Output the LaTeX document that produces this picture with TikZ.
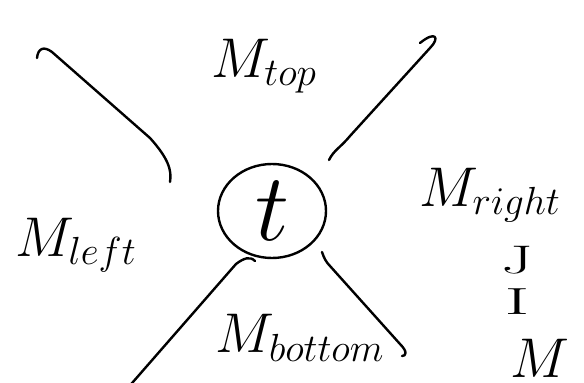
\RequirePackage{fix-cm}
\documentclass[tikz,border=0pt]{standalone}
\usepackage{amsmath}
\usepackage{amssymb}
\usetikzlibrary{shapes.geometric}

\begin{document}
\begin{tikzpicture}[x=1pt,y=-1pt,
    pen/.style={line width=2.4pt, line cap=round, line join=round},
    mlabel/.style={inner sep=0pt, font=\fontsize{56}{56}\selectfont},
    letter/.style={inner sep=0pt, font=\fontsize{42}{42}\selectfont}]
            \useasboundingbox (0,0) rectangle (584,383);
            % the task in the middle
            \node[ellipse, draw, pen, minimum width=108pt, minimum height=94pt] (t) at (272,211) {};
            \node[inner sep=0pt, font=\fontsize{96}{96}\selectfont] (tl) at (t.center) {$t$};
            % the four regions
            \node[mlabel] (mtop) at (264,66) {$M_{top}$};
            \node[mlabel] (mleft) at (76,245) {$M_{left}$};
            \node[mlabel] (mright) at (490,195) {$M_{right}$};
            \node[mlabel] (mbottom) at (300,338) {$M_{bottom}$};
            \node[letter] (j) at (517,260) {\scalebox{1.6}[0.95]{$\mathrm{J}$}};
            \node[letter] (i) at (517,302) {\scalebox{1.8}[0.9]{$\mathrm{I}$}};
            \node[mlabel, anchor=south east] (mcut) at (570,378) {$M$};
            % dividing strokes
            \coordinate (ula) at (37,58);
            \coordinate (ulb) at (170,182);
            \coordinate (ura) at (329,160);
            \coordinate (urb) at (420,43);
            \coordinate (lla) at (255,261);
            \coordinate (llb) at (126,390);
            \coordinate (lra) at (322,252);
            \coordinate (lrb) at (402,356);
            \draw[pen] (ula) .. controls (38,48) and (44,46) .. (52,52)
                -- (150,138) .. controls (168,158) and (172,170) .. (ulb);
            \draw[pen] (ura) .. controls (334,150) and (340,148) .. (350,136)
                -- (430,48) .. controls (440,38) and (436,30) .. (urb);
            \draw[pen] (lla) .. controls (250,256) and (244,258) .. (236,264)
                -- (llb);
            \draw[pen] (lra) .. controls (324,258) and (326,262) .. (330,266)
                -- (400,344) .. controls (408,352) and (406,356) .. (lrb);
        \end{tikzpicture}
\end{document}
